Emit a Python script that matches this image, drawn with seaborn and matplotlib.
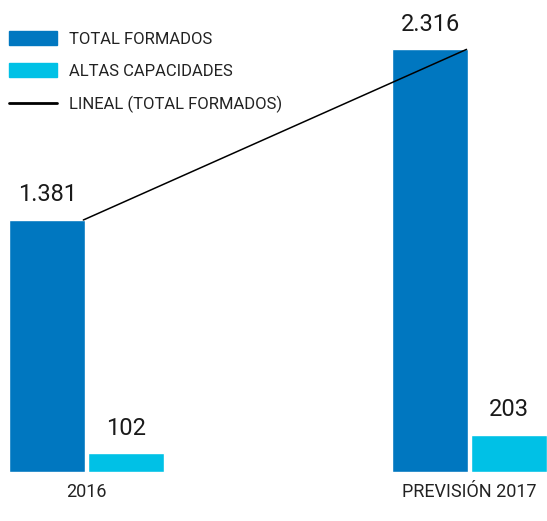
import pandas as pd
import numpy as np
import matplotlib.pyplot as plt
import seaborn as sns
from matplotlib.patches import Patch
from matplotlib.lines import Line2D

sns.set_style("white")
plt.rcParams['font.family'] = ['Roboto', 'DejaVu Sans']

years = ["2016", "PREVISIÓN 2017"]
total_formados = [1381, 2316]
altas_capacidades = [102, 203]
series = ["TOTAL FORMADOS", "ALTAS CAPACIDADES"]
colors = ["#0077C0", "#00C1E6"]

df = pd.DataFrame({
    "year": years * 2,
    "serie": [series[0]] * 2 + [series[1]] * 2,
    "value": total_formados + altas_capacidades,
})

fig = plt.figure(figsize=(5.47, 5.21), dpi=100)
ax = fig.add_axes([9 / 547, 49 / 521, 538 / 547, 472 / 521])

sns.barplot(data=df, x="year", y="value", hue="serie", palette=colors,
            width=0.41, gap=0.03, saturation=1, ax=ax, legend=False)

# linear trend of total formados
x = np.arange(len(years))
fit = np.polyfit(x, total_formados, 1)
ax.plot(x - 0.008, np.polyval(fit, x), color="black", lw=1.1)

def fmt(v):
    return f"{v:,}".replace(",", ".")

for cont in ax.containers:
    for bar, v in zip(cont, cont.datavalues):
        ax.text(bar.get_x() + bar.get_width() / 2, v + 75, fmt(int(v)),
                ha="center", va="bottom", fontsize=17, color="#1a1a1a")

ax.set_xlim(-0.202, 1.202)
ax.set_ylim(0, 472 * 1381 / 252)
ax.set_xlabel("")
ax.set_ylabel("")
ax.set_yticks([])
ax.tick_params(axis="x", length=0, labelsize=13, colors="#222222", pad=8)
sns.despine(ax=ax, left=True, bottom=True)

handles = [Patch(color=colors[0], label=series[0]),
           Patch(color=colors[1], label=series[1]),
           Line2D([0], [0], color="black", lw=2, label="LINEAL (TOTAL FORMADOS)")]
leg = fig.legend(handles=handles, loc="upper left", bbox_to_anchor=(9 / 547, 1 - 31 / 521),
                 frameon=False, fontsize=12, handlelength=2.85, handleheight=0.9,
                 labelspacing=1.0, handletextpad=0.75, borderpad=0, borderaxespad=0)
for t in leg.get_texts():
    t.set_color("#222222")

fig.savefig("out.png", dpi=100)
